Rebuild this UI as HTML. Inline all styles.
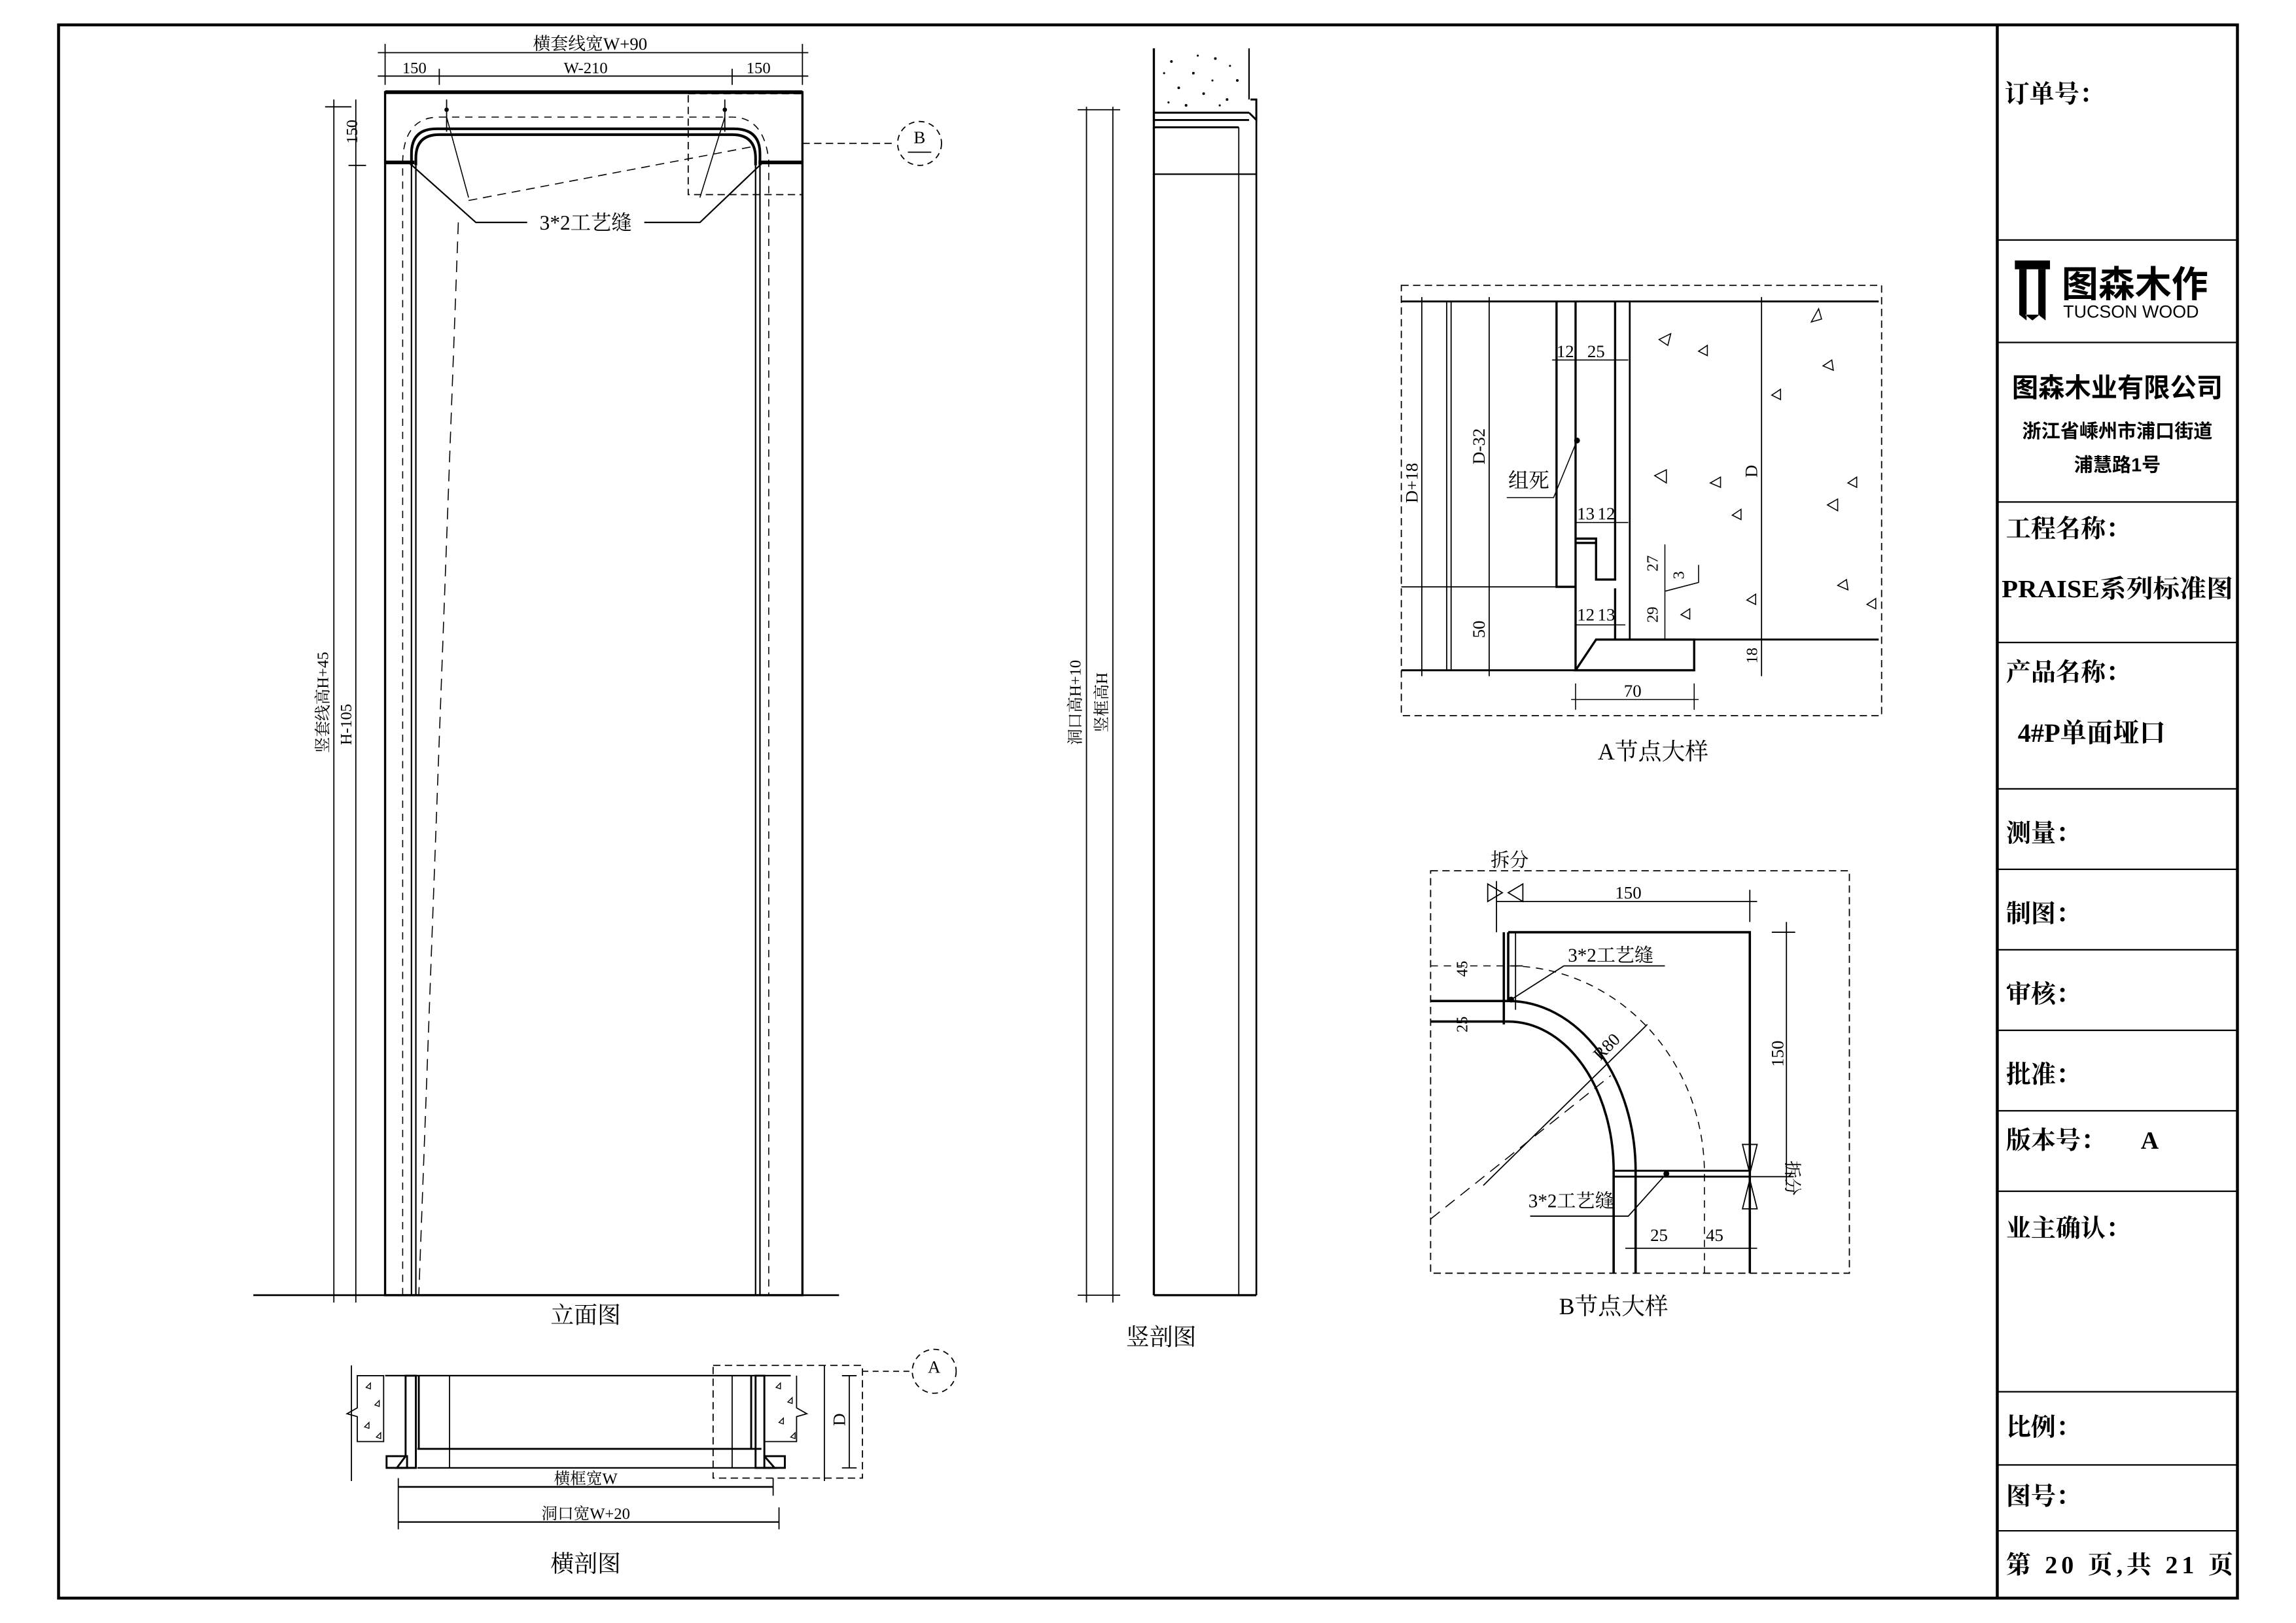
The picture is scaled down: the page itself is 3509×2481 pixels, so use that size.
<!DOCTYPE html>
<html><head><meta charset="utf-8"><style>
html,body{margin:0;padding:0;background:#fff;}
svg{display:block;}
text{font-family:"Liberation Serif","Noto Serif CJK SC","Noto Sans CJK SC",serif;fill:#000;}
.b{font-family:"Liberation Sans","Noto Sans CJK SC",sans-serif;font-weight:bold;}
.t{font-weight:bold;}
</style></head><body>
<svg width="3509" height="2481" viewBox="0 0 1568 1109" preserveAspectRatio="none" xmlns="http://www.w3.org/2000/svg">
<g fill="none" stroke="#000">
<!-- frame -->
<rect x="40" y="17" width="1488" height="1075" stroke-width="2"/>
<line x1="1364" y1="17" x2="1364" y2="1092" stroke-width="2"/>
<g stroke-width="1">
<line x1="1364" y1="164" x2="1528" y2="164"/><line x1="1364" y1="234" x2="1528" y2="234"/>
<line x1="1364" y1="343" x2="1528" y2="343"/><line x1="1364" y1="439" x2="1528" y2="439"/>
<line x1="1364" y1="539" x2="1528" y2="539"/><line x1="1364" y1="594" x2="1528" y2="594"/>
<line x1="1364" y1="649" x2="1528" y2="649"/><line x1="1364" y1="704" x2="1528" y2="704"/>
<line x1="1364" y1="759" x2="1528" y2="759"/><line x1="1364" y1="814" x2="1528" y2="814"/>
<line x1="1364" y1="951" x2="1528" y2="951"/><line x1="1364" y1="1001" x2="1528" y2="1001"/>
<line x1="1364" y1="1046" x2="1528" y2="1046"/>
</g>

<!-- ELEVATION -->
<line x1="173" y1="885" x2="573" y2="885" stroke-width="1.2"/>
<rect x="263" y="63" width="285" height="822" stroke-width="1.5"/>
<line x1="263" y1="63" x2="548" y2="63" stroke-width="2.5"/>
<line x1="281" y1="113" x2="281" y2="885" stroke-width="1"/>
<line x1="284" y1="113" x2="284" y2="885" stroke-width="1"/>
<line x1="516" y1="113" x2="516" y2="885" stroke-width="1"/>
<line x1="519" y1="113" x2="519" y2="885" stroke-width="1"/>
<path d="M281,113 L281,105 Q281,88 298,88 L501,88 Q519,88 519,105 L519,113" stroke-width="1.8"/>
<path d="M284,113 L284,108 Q284,92 300,92 L500,92 Q516,92 516,108 L516,113" stroke-width="1.8"/>
<line x1="263" y1="111" x2="283" y2="111" stroke-width="2.5"/>
<line x1="518" y1="111" x2="548" y2="111" stroke-width="2.5"/>
<path d="M275,885 L275,110 Q276,80 300,80 L500,80 Q522,80 525,110 L525,885" stroke-dasharray="5,4" stroke-width="0.7"/>
<line x1="305" y1="68" x2="305" y2="90" stroke-width="0.8"/>
<line x1="495" y1="68" x2="495" y2="90" stroke-width="0.8"/>
<path d="M305,80 L320,135 M495,80 L478,135" stroke-width="0.7"/>
<path d="M278,110 L325,152 L360,152 M522,110 L478,152 L440,152" stroke-width="1"/>
<path d="M320,137 L515,100" stroke-dasharray="6,4" stroke-width="0.7"/>
<path d="M313,152 L286,885" stroke-dasharray="8,5" stroke-width="0.7"/>
<rect x="470" y="64" width="78" height="69" stroke-dasharray="5,3" stroke-width="0.8"/>
<line x1="548" y1="98" x2="612" y2="98" stroke-dasharray="5,3" stroke-width="0.8"/>
<circle cx="628" cy="98" r="15" stroke-dasharray="4,3" stroke-width="0.8"/>
<line x1="620" y1="104" x2="636" y2="104" stroke-width="0.8"/>
<!-- elev dims -->
<g stroke-width="0.8">
<line x1="258" y1="36" x2="552" y2="36"/><line x1="258" y1="52" x2="552" y2="52"/>
<line x1="263" y1="30" x2="263" y2="58"/><line x1="548" y1="30" x2="548" y2="58"/>
<line x1="300" y1="47" x2="300" y2="58"/><line x1="500" y1="47" x2="500" y2="58"/>
<line x1="228" y1="68" x2="228" y2="890"/><line x1="243" y1="68" x2="243" y2="890"/>
<line x1="222" y1="73" x2="240" y2="73"/><line x1="238" y1="113" x2="250" y2="113"/>
<line x1="222" y1="885" x2="250" y2="885"/>
</g>

<!-- VERTICAL SECTION -->
<line x1="742" y1="73" x2="742" y2="890" stroke-width="0.8"/>
<line x1="760" y1="73" x2="760" y2="890" stroke-width="0.8"/>
<line x1="736" y1="75" x2="765" y2="75" stroke-width="0.8"/>
<line x1="736" y1="885" x2="765" y2="885" stroke-width="0.8"/>
<line x1="788" y1="33" x2="788" y2="885" stroke-width="1.5"/>
<line x1="853" y1="33" x2="853" y2="68" stroke-width="1"/>
<line x1="788" y1="885" x2="858" y2="885" stroke-width="1.5"/>
<line x1="846" y1="87" x2="846" y2="885" stroke-width="0.8"/>
<line x1="858" y1="68" x2="858" y2="885" stroke-width="1.2"/>
<path d="M788,77 L853,77 M788,82 L853,82 M788,87 L846,87 M854,68 L858,68 L858,82 L853,77" stroke-width="1.3"/>
<line x1="788" y1="119" x2="858" y2="119" stroke-width="1"/>
<g fill="#000" stroke="none">
<circle cx="800" cy="42" r="0.9"/><circle cx="815" cy="50" r="0.9"/><circle cx="830" cy="40" r="0.9"/><circle cx="845" cy="55" r="0.9"/><circle cx="805" cy="60" r="0.9"/><circle cx="822" cy="64" r="0.9"/><circle cx="838" cy="68" r="0.9"/><circle cx="810" cy="72" r="0.9"/>
<circle cx="795" cy="50" r="0.7"/><circle cx="828" cy="55" r="0.7"/><circle cx="840" cy="45" r="0.7"/><circle cx="818" cy="38" r="0.7"/><circle cx="798" cy="70" r="0.7"/><circle cx="833" cy="72" r="0.7"/>
</g>

<!-- HORIZONTAL SECTION -->
<line x1="263" y1="940" x2="540" y2="940" stroke-width="1"/>
<line x1="285" y1="990" x2="520" y2="990" stroke-width="1.3"/>
<line x1="285" y1="1003" x2="520" y2="1003" stroke-width="1"/>
<line x1="307" y1="940" x2="307" y2="1003" stroke-width="0.8"/>
<line x1="500" y1="940" x2="500" y2="1003" stroke-width="0.8"/>
<path d="M244,940 L244,962 L237,966 L244,968 L244,985 L262,985 L262,940 Z" stroke-width="0.8"/>
<path d="M544,940 L544,962 L551,966 L544,968 L544,985 L522,985 L522,940" stroke-width="0.8"/>
<path d="M240,933 L240,1012 M563,933 L563,1012" stroke-width="0.8"/>
<path d="M277,940 L277,995 L271,1003 L284,1003 L284,940 Z M286,940 L286,990" stroke-width="1.3"/>
<path d="M522,940 L522,995 L529,1003 L516,1003 L516,940 Z M513,940 L513,990" stroke-width="1.3"/>
<rect x="264" y="995" width="14" height="8" stroke-width="1.3"/>
<rect x="522" y="995" width="14" height="8" stroke-width="1.3"/>
<rect x="487" y="933" width="102" height="77" stroke-dasharray="5,3" stroke-width="0.8"/>
<line x1="589" y1="937" x2="623" y2="937" stroke-dasharray="4,3" stroke-width="0.8"/>
<circle cx="638" cy="937" r="15" stroke-dasharray="4,3" stroke-width="0.8"/>
<line x1="580" y1="940" x2="580" y2="1003" stroke-width="0.8"/>
<line x1="575" y1="940" x2="585" y2="940" stroke-width="0.8"/><line x1="575" y1="1003" x2="585" y2="1003" stroke-width="0.8"/>
<line x1="272" y1="1016" x2="528" y2="1016" stroke-width="1.2"/>
<line x1="272" y1="1040" x2="532" y2="1040" stroke-width="1"/>
<line x1="272" y1="1010" x2="272" y2="1045" stroke-width="0.8"/><line x1="528" y1="1010" x2="528" y2="1022" stroke-width="0.8"/>
<line x1="532" y1="1030" x2="532" y2="1045" stroke-width="0.8"/>
<g stroke-width="0.6">
<path d="M250,948 l3,-3 l0,4 z M256,960 l3,-3 l0,4 z M249,975 l3,-3 l0,4 z M257,982 l3,-3 l0,4 z M530,948 l3,-3 l0,4 z M538,958 l3,-3 l0,4 z M532,972 l3,-3 l0,4 z M540,982 l3,-3 l0,4 z"/>
</g>

<!-- A DETAIL -->
<rect x="957" y="195" width="328" height="294" stroke-dasharray="5,3" stroke-width="0.8"/>
<line x1="957" y1="206" x2="1283" y2="206" stroke-width="1.3"/>
<line x1="957" y1="458" x2="1157" y2="458" stroke-width="1.3"/>
<line x1="1157" y1="437" x2="1283" y2="437" stroke-width="1.3"/>
<line x1="971" y1="203" x2="971" y2="462" stroke-width="0.8"/>
<line x1="988" y1="206" x2="988" y2="458" stroke-width="0.8"/>
<line x1="991" y1="206" x2="991" y2="458" stroke-width="0.8"/>
<line x1="1017" y1="203" x2="1017" y2="462" stroke-width="0.8"/>
<line x1="957" y1="401" x2="1063" y2="401" stroke-width="0.8"/>
<line x1="1203" y1="203" x2="1203" y2="462" stroke-width="0.8"/>
<path d="M1063,206 L1063,401 L1076,401" stroke-width="1.5"/>
<line x1="1076" y1="206" x2="1076" y2="458" stroke-width="1.5"/>
<path d="M1103,206 L1103,396 L1090,396 L1090,368 L1076,368 M1090,371 L1076,371 M1103,402 L1103,437" stroke-width="1.5"/>
<line x1="1113" y1="206" x2="1113" y2="437" stroke-width="1.2"/>
<path d="M1076,458 L1157,458 L1157,437 L1090,437 Z" stroke-width="1.5"/>
<g stroke-width="0.7">
<line x1="1060" y1="246" x2="1112" y2="246"/><line x1="1076" y1="357" x2="1112" y2="357"/>
<line x1="1076" y1="427" x2="1110" y2="427"/><line x1="1073" y1="478" x2="1160" y2="478"/>
<line x1="1076" y1="467" x2="1076" y2="485"/><line x1="1157" y1="467" x2="1157" y2="485"/>
<line x1="1137" y1="372" x2="1137" y2="437"/>
<path d="M1077,301 L1061,340 L1029,340"/><path d="M1137,404 L1160,398 L1160,386"/>
<path d="M1133,232 l8,-4 l-2,8 z M1160,240 l6,-4 l0,7 z M1130,325 l8,-4 l0,9 z M1183,352 l6,-4 l0,7 z M1193,410 l6,-4 l0,7 z M1237,220 l7,-2 l-2,-7 z M1245,250 l6,-4 l1,7 z M1210,270 l6,-4 l0,7 z M1248,345 l7,-4 l0,8 z M1262,330 l6,-4 l0,7 z M1255,400 l6,-4 l1,7 z M1275,413 l6,-4 l0,7 z M1168,330 l7,-4 l0,7 z M1148,420 l6,-4 l0,7 z"/>
</g>

<!-- B DETAIL -->
<rect x="977" y="595" width="286" height="275" stroke-dasharray="5,3" stroke-width="0.8"/>
<path d="M1030,637 L1195,637 L1195,870" stroke-width="1.6"/>
<line x1="1027" y1="637" x2="1027" y2="700" stroke-width="1.6"/>
<line x1="1030" y1="637" x2="1030" y2="684" stroke-width="1.6"/>
<line x1="977" y1="684" x2="1030" y2="684" stroke-width="1.6"/>
<line x1="977" y1="698" x2="1030" y2="698" stroke-width="1.6"/>
<path d="M1030,684 A87,116 0 0 1 1117,800" stroke-width="1.6"/>
<path d="M1030,698 A72,102 0 0 1 1102,800" stroke-width="1.6"/>
<line x1="1102" y1="800" x2="1195" y2="800" stroke-width="1.3"/>
<line x1="1102" y1="804" x2="1195" y2="804" stroke-width="1.3"/>
<line x1="1102" y1="800" x2="1102" y2="870" stroke-width="1.6"/>
<line x1="1117" y1="800" x2="1117" y2="870" stroke-width="1.6"/>
<path d="M977,660 L1030,660 A134,142 0 0 1 1164,802 L1164,870" stroke-dasharray="5,4" stroke-width="0.7"/>
<path d="M977,833 L1100,735" stroke-dasharray="8,5" stroke-width="0.7"/>
<path d="M1013,810 L1125,700" stroke-width="0.8"/>
<g stroke-width="0.8">
<line x1="1022" y1="602" x2="1022" y2="637"/>
<line x1="1022" y1="616" x2="1200" y2="616"/><line x1="1195" y1="608" x2="1195" y2="630"/>
<path d="M1016,604 l10,6 l-10,6 z M1040,604 l-10,6 l10,6 z"/>
<line x1="1035" y1="637" x2="1035" y2="690"/><line x1="1032" y1="660" x2="1040" y2="660"/>
<line x1="1220" y1="630" x2="1220" y2="810"/><line x1="1210" y1="637" x2="1226" y2="637"/>
<line x1="1195" y1="804" x2="1225" y2="804"/>
<path d="M1190,782 l10,0 l-5,20 z M1190,826 l10,0 l-5,-20 z"/>
<line x1="1110" y1="853" x2="1200" y2="853"/>
<path d="M1032,683 L1068,660 L1137,660"/>
<path d="M1138,802 L1112,831 L1045,831"/>
</g>
</g>

<g fill="#000">
<circle cx="1077" cy="301" r="2"/><circle cx="1032" cy="683" r="2"/><circle cx="1138" cy="802" r="2"/>
<circle cx="305" cy="75" r="1.5"/><circle cx="495" cy="75" r="1.5"/>
</g>

<!-- texts elevation -->
<text x="403" y="34" font-size="12" text-anchor="middle">横套线宽W+90</text>
<text x="283" y="50" font-size="11" text-anchor="middle">150</text>
<text x="400" y="50" font-size="11" text-anchor="middle">W-210</text>
<text x="518" y="50" font-size="11" text-anchor="middle">150</text>
<text x="400" y="157" font-size="14" text-anchor="middle">3*2工艺缝</text>
<text x="628" y="98" font-size="12" text-anchor="middle">B</text>
<text x="638" y="938" font-size="12" text-anchor="middle">A</text>
<text transform="translate(244,90) rotate(-90)" font-size="11" text-anchor="middle">150</text>
<text transform="translate(224,480) rotate(-90)" font-size="11" text-anchor="middle">竖套线高H+45</text>
<text transform="translate(240,495) rotate(-90)" font-size="11" text-anchor="middle">H-105</text>
<text x="400" y="904" font-size="16" text-anchor="middle">立面图</text>
<text transform="translate(738,480) rotate(-90)" font-size="11" text-anchor="middle">洞口高H+10</text>
<text transform="translate(756,480) rotate(-90)" font-size="11" text-anchor="middle">竖框高H</text>
<text x="793" y="919" font-size="16" text-anchor="middle">竖剖图</text>
<text x="400" y="1014" font-size="11" text-anchor="middle">横框宽W</text>
<text x="400" y="1038" font-size="11" text-anchor="middle">洞口宽W+20</text>
<text x="400" y="1074" font-size="16" text-anchor="middle">横剖图</text>
<text transform="translate(577,970) rotate(-90)" font-size="12" text-anchor="middle">D</text>

<!-- A detail text -->
<text x="1069" y="244" font-size="12" text-anchor="middle">12</text>
<text x="1090" y="244" font-size="12" text-anchor="middle">25</text>
<text x="1083" y="355" font-size="12" text-anchor="middle">13</text>
<text x="1097" y="355" font-size="12" text-anchor="middle">12</text>
<text x="1083" y="424" font-size="12" text-anchor="middle">12</text>
<text x="1097" y="424" font-size="12" text-anchor="middle">13</text>
<text x="1044" y="333" font-size="14" text-anchor="middle">组死</text>
<text transform="translate(968,330) rotate(-90)" font-size="12" text-anchor="middle">D+18</text>
<text transform="translate(1014,305) rotate(-90)" font-size="12" text-anchor="middle">D-32</text>
<text transform="translate(1014,430) rotate(-90)" font-size="12" text-anchor="middle">50</text>
<text transform="translate(1200,322) rotate(-90)" font-size="12" text-anchor="middle">D</text>
<text transform="translate(1200,448) rotate(-90)" font-size="11" text-anchor="middle">18</text>
<text transform="translate(1132,385) rotate(-90)" font-size="11" text-anchor="middle">27</text>
<text transform="translate(1132,420) rotate(-90)" font-size="11" text-anchor="middle">29</text>
<text transform="translate(1150,393) rotate(-90)" font-size="11" text-anchor="middle">3</text>
<text x="1115" y="476" font-size="12" text-anchor="middle">70</text>
<text x="1129" y="519" font-size="16" text-anchor="middle">A节点大样</text>

<!-- B detail text -->
<text x="1031" y="592" font-size="13" text-anchor="middle">拆分</text>
<text x="1112" y="614" font-size="12" text-anchor="middle">150</text>
<text x="1100" y="657" font-size="13" text-anchor="middle">3*2工艺缝</text>
<text x="1073" y="825" font-size="13" text-anchor="middle">3*2工艺缝</text>
<text transform="translate(1002,662) rotate(-90)" font-size="11" text-anchor="middle">45</text>
<text transform="translate(1002,700) rotate(-90)" font-size="11" text-anchor="middle">25</text>
<text transform="translate(1218,720) rotate(-90)" font-size="12" text-anchor="middle">150</text>
<text transform="translate(1100,718) rotate(-45)" font-size="12" text-anchor="middle">R80</text>
<text transform="translate(1220,805) rotate(90)" font-size="12" text-anchor="middle">拆分</text>
<text x="1133" y="848" font-size="12" text-anchor="middle">25</text>
<text x="1171" y="848" font-size="12" text-anchor="middle">45</text>
<text x="1102" y="898" font-size="16" text-anchor="middle">B节点大样</text>

<!-- title block text -->
<text x="1369" y="70" font-size="17" class="t">订单号：</text>
<rect x="1376" y="178" width="24" height="6" fill="#000"/>
<path d="M1379,184 h5 v35 l-5,-4 z M1392,184 h5 v35 l-5,-4 z M1383,215 l5,4 l5,-4" fill="#000"/>
<text x="1408" y="203" font-size="25" class="b">图森木作</text>
<text x="1409" y="217" font-size="12" style="font-family:'Liberation Sans',sans-serif">TUCSON WOOD</text>
<text x="1446" y="271" font-size="18" class="b" text-anchor="middle">图森木业有限公司</text>
<text x="1446" y="299" font-size="13" class="b" text-anchor="middle">浙江省嵊州市浦口街道</text>
<text x="1446" y="322" font-size="13" class="b" text-anchor="middle">浦慧路1号</text>
<text x="1370" y="367" font-size="17" class="t">工程名称：</text>
<text x="1367" y="408" font-size="17" class="t" textLength="158" lengthAdjust="spacingAndGlyphs">PRAISE系列标准图</text>
<text x="1370" y="465" font-size="17" class="t">产品名称：</text>
<text x="1378" y="507" font-size="18" class="t">4#P单面垭口</text>
<text x="1370" y="575" font-size="17" class="t">测量：</text>
<text x="1370" y="630" font-size="17" class="t">制图：</text>
<text x="1370" y="685" font-size="17" class="t">审核：</text>
<text x="1370" y="740" font-size="17" class="t">批准：</text>
<text x="1370" y="785" font-size="17" class="t">版本号：</text>
<text x="1462" y="785" font-size="17" class="t">A</text>
<text x="1370" y="845" font-size="17" class="t">业主确认：</text>
<text x="1370" y="981" font-size="17" class="t">比例：</text>
<text x="1370" y="1028" font-size="17" class="t">图号：</text>
<text x="1370" y="1075" font-size="17" class="t" textLength="155" lengthAdjust="spacing">第 20 页,共 21 页</text>
</svg>
</body></html>
